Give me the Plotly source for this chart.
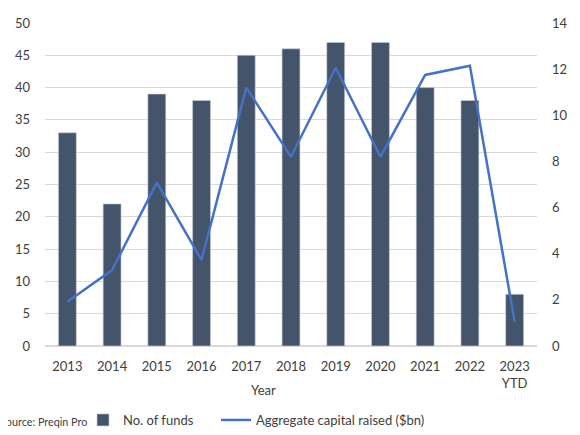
import plotly.graph_objects as go

years = ["2013", "2014", "2015", "2016", "2017", "2018", "2019", "2020", "2021", "2022", "2023<br>YTD"]
num_funds = [33, 22, 39, 38, 45, 46, 47, 47, 40, 38, 8]
capital_bn = [1.92, 3.29, 7.08, 3.73, 11.2, 8.2, 12.06, 8.2, 11.75, 12.15, 1.05]
left_ticks = list(range(0, 51, 5))
right_ticks = list(range(0, 15, 2))

FONT = "Lato"
TXT = "#404040"

# page offset (body margin) of the figure inside the window
OX, OY = 8, 8
VW, VH = 580, 435
W, H = VW - OX, VH - OY
# plot area in window pixels
PX0, PX1, PY0, PY1 = 45, 537, 23, 346
L, R, T, B = PX0 - OX, VW - PX1, PY0 - OY, VH - PY1
pw = PX1 - PX0
ph = PY1 - PY0

def px2x(p):
    return (p - PX0) / pw

def py2y(p):
    return (PY1 - p) / ph

fig = go.Figure()
fig.add_trace(go.Bar(
    x=years, y=num_funds, name="No. of funds",
    marker=dict(color="#44546a", line=dict(color="#c9ced6", width=0.6)),
    yaxis="y", legend="legend",
))
fig.add_trace(go.Scatter(
    x=years, y=capital_bn, name="Aggregate capital raised ($bn)",
    mode="lines", line=dict(color="#4472c4", width=2.5),
    yaxis="y2", legend="legend2",
))

leg_common = dict(orientation="h", xanchor="left", yanchor="middle",
                  font=dict(size=13, color=TXT), itemwidth=30,
                  bgcolor="rgba(0,0,0,0)")

fig.update_layout(
    width=W, height=H,
    margin=dict(l=L, r=R, t=T, b=B, autoexpand=False),
    paper_bgcolor="white", plot_bgcolor="white",
    font=dict(family=FONT, size=13, color=TXT),
    bargap=0.6,
    showlegend=True,
    legend=dict(x=px2x(83), y=py2y(420), **leg_common),
    legend2=dict(x=px2x(216), y=py2y(420), **leg_common),
    xaxis=dict(type="category", showgrid=False, ticks="", showline=False, automargin=False,
               tickfont=dict(size=13, color=TXT), ticklabelstandoff=11),
    yaxis=dict(range=[0, 50], tickvals=left_ticks, showgrid=True, gridcolor="#d9d9d9",
               gridwidth=1, zeroline=True, zerolinecolor="#d9d9d9", showline=False, automargin=False,
               ticks="", tickfont=dict(size=13, color=TXT), ticklabelstandoff=14),
    yaxis2=dict(range=[0, 14], tickvals=right_ticks, overlaying="y", side="right", automargin=False,
                showgrid=False, zeroline=False, showline=False, ticks="",
                tickfont=dict(size=13, color=TXT), ticklabelstandoff=14),
    annotations=[
        dict(text="Year", xref="paper", yref="paper", x=px2x(263), y=py2y(390),
             xanchor="center", yanchor="middle", showarrow=False, font=dict(size=13, color=TXT)),
        dict(text="Source: Preqin Pro", xref="paper", yref="paper", x=px2x(89), y=py2y(421),
             xanchor="right", yanchor="middle", showarrow=False, font=dict(size=10.8, color=TXT)),
        dict(text="No. of funds", xref="paper", yref="paper", x=px2x(10), y=py2y(184),
             xanchor="center", yanchor="middle", textangle=-90, showarrow=False, xshift=-9,
             font=dict(size=13, color=TXT)),
        dict(text="Aggregate capital raised ($bn)", xref="paper", yref="paper", x=px2x(578), y=py2y(184),
             xanchor="center", yanchor="middle", textangle=-90, showarrow=False, xshift=5,
             font=dict(size=13, color=TXT)),
    ],
)

fig.write_html("out.html")
